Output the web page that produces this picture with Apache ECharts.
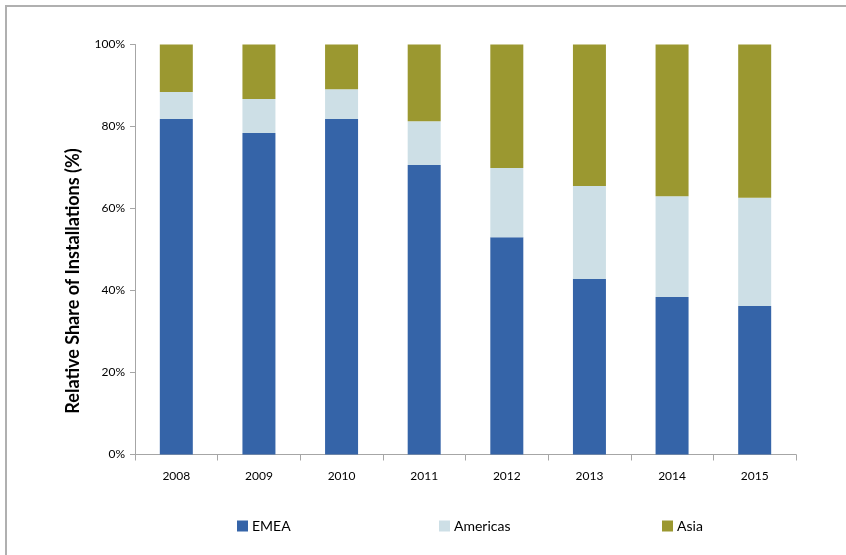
<!DOCTYPE html>
<html>
<head>
<meta charset="utf-8">
<script src="https://cdn.jsdelivr.net/npm/echarts@6/dist/echarts.min.js"></script>
<style>
  html, body { margin: 0; padding: 0; background: #fff; }
  #chart { width: 846px; height: 555px; }
</style>
</head>
<body>
<div id="chart"></div>
<script>
// Share of installations by region, per year (percent of total)
const years = ['2008', '2009', '2010', '2011', '2012', '2013', '2014', '2015'];
const emea = [81.8, 78.4, 81.8, 70.6, 53.0, 42.8, 38.4, 36.2];
const americas = [6.6, 8.3, 7.3, 10.7, 16.9, 22.7, 24.6, 26.4];
const asia = [11.6, 13.3, 10.9, 18.7, 30.1, 34.5, 37.0, 37.4];
const yTicks = [0, 20, 40, 60, 80, 100];

const font = 'Lato, "Open Sans", "Liberation Sans", sans-serif';
const axisGray = '#a6a6a6';

const chart = echarts.init(document.getElementById('chart'), null, { renderer: 'canvas' });

function legendItem(name, left) {
  return {
    data: [name],
    left: left,
    top: 514,
    itemWidth: 11,
    itemHeight: 11,
    itemGap: 4,
    icon: 'rect',
    textStyle: { fontFamily: font, fontSize: 14, color: '#000', padding: [0, 0, 0, -1] },
    selectedMode: false
  };
}

const option = {
  backgroundColor: '#fff',
  animation: false,
  grid: { left: 135, right: 50, top: 44.5, bottom: 100.5, containLabel: false },
  legend: [
    legendItem('EMEA', 232),
    legendItem('Americas', 434),
    legendItem('Asia', 657)
  ],
  xAxis: {
    type: 'category',
    data: years,
    axisLine: { show: true, lineStyle: { color: axisGray, width: 1 } },
    axisTick: { show: true, alignWithLabel: false, length: 6, lineStyle: { color: axisGray } },
    axisLabel: { color: '#000', fontFamily: font, fontSize: 12, margin: 16 }
  },
  yAxis: {
    type: 'value',
    min: 0,
    max: 100,
    interval: 20,
    splitLine: { show: false },
    axisLine: { show: true, lineStyle: { color: axisGray, width: 1 } },
    axisTick: { show: true, length: 5, lineStyle: { color: axisGray } },
    axisLabel: {
      color: '#000', fontFamily: font, fontSize: 12, margin: 10,
      formatter: v => (yTicks.indexOf(v) >= 0 ? v + '%' : '')
    }
  },
  series: [
    { name: 'EMEA', type: 'bar', stack: 'share', data: emea, barWidth: 33,
      itemStyle: { color: '#3564a8' } },
    { name: 'Americas', type: 'bar', stack: 'share', data: americas, barWidth: 33,
      itemStyle: { color: '#cddfe6' } },
    { name: 'Asia', type: 'bar', stack: 'share', data: asia, barWidth: 33,
      itemStyle: { color: '#9b9830' } }
  ],
  graphic: [
    {
      type: 'rect',
      shape: { x: 6, y: 6, width: 1000, height: 1000 },
      style: { fill: 'none', stroke: '#b0b0b0', lineWidth: 2 },
      silent: true
    },
    {
      type: 'text',
      x: 73,
      y: 281,
      rotation: Math.PI / 2,
      style: {
        text: 'Relative Share of Installations (%)',
        x: 0, y: 0,
        align: 'center',
        verticalAlign: 'middle',
        fill: '#000',
        font: 'bold 18px ' + font
      },
      silent: true
    }
  ]
};

chart.setOption(option);
</script>
</body>
</html>
